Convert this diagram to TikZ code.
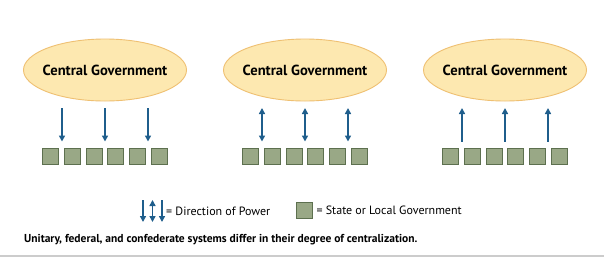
\documentclass[tikz,border=0pt]{standalone}
\usepackage{fontspec}
\setmainfont{PT Sans}
\usetikzlibrary{arrows.meta,positioning,shapes.geometric}
\definecolor{govfill}{HTML}{FDE8B0}
\definecolor{govedge}{HTML}{EFC072}
\definecolor{powerblue}{HTML}{1F5E8C}
\definecolor{statefill}{HTML}{99A886}
\definecolor{stateedge}{HTML}{5D704F}

\begin{document}
\begin{tikzpicture}[x=1pt,y=-1pt,
    gov/.style={ellipse,draw=govedge,fill=govfill,line width=0.9pt,minimum width=163pt,minimum height=62pt,inner xsep=-5pt,inner ysep=0pt,font=\bfseries\fontsize{14.6}{16}\selectfont},
    state/.style={rectangle,draw=stateedge,fill=statefill,line width=0.8pt,minimum size=16pt,inner sep=0pt},
    power/.style={powerblue,line width=1.5pt},
    pwrdown/.style={-{Triangle[length=6pt,width=6pt]}},
    pwrup/.style={{Triangle[length=6pt,width=6pt]}-},
    pwrboth/.style={{Triangle[length=6pt,width=6pt]}-{Triangle[length=6pt,width=6pt]}},
    legend/.style={font=\fontsize{12}{14}\selectfont,inner sep=0pt,anchor=west}]
    \useasboundingbox (0,0) rectangle (604,258);
    \fill[white] (0,0) rectangle (604,258);
    % three systems
    \foreach \k/\cx/\dir in {1/105/pwrdown,2/305/pwrboth,3/505/pwrup}{
        \node[gov] (gov\k) at (\cx,70) {Central Government};
        \foreach \j in {1,...,6}{\node[state] (st\k-\j) at ({\cx-54.5+(\j-1)*21.7},156) {};}
        \foreach \d [count=\i] in {-43,0,43}{
            \coordinate (top\k-\i) at (\cx+\d,108);
            \coordinate (bot\k-\i) at (\cx+\d,141.5);
            \draw[power,\dir] (top\k-\i) -- (bot\k-\i);
        }
    }
    % legend
    \coordinate (lgtop1) at (143,200); \coordinate (lgbot1) at (143,222);
    \coordinate (lgtop2) at (152.5,200); \coordinate (lgbot2) at (152.5,222);
    \coordinate (lgtop3) at (162,200); \coordinate (lgbot3) at (162,222);
    \draw[power,pwrdown] (lgtop1) -- (lgbot1);
    \draw[power,pwrboth] (lgtop2) -- (lgbot2);
    \draw[power,pwrup] (lgbot3) -- (lgtop3);
    \node[legend] (lgpower) at (166,211) {= Direction of Power};
    \node[state] (lgstate) at (304,210.5) {};
    \node[legend,right=4pt of lgstate] (lgstatetext) {= State or Local Government};
    \node[font=\bfseries\fontsize{11.5}{13}\selectfont,inner sep=0pt,anchor=west] (caption) at (24,240) {Unitary, federal, and confederate systems differ in their degree of centralization.};
    \draw[black!20,line width=2pt] (0,256) -- (604,256);
\end{tikzpicture}
\end{document}
